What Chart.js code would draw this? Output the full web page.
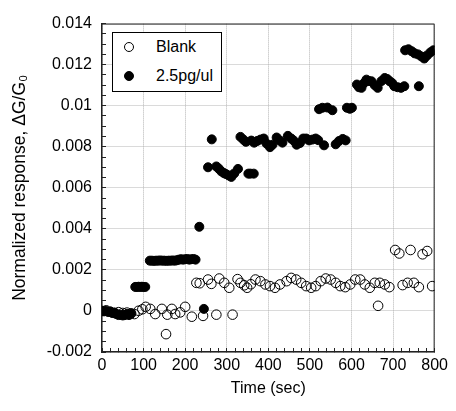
<!DOCTYPE html>
<html lang="en">
<head>
<meta charset="utf-8">
<title>Normalized response</title>
<script src="https://cdn.jsdelivr.net/npm/chart.js@4.4.1/dist/chart.umd.min.js"></script>
<style>
    html, body { margin: 0; padding: 0; background: #fff; }
    #area { position: relative; width: 456px; height: 411px; }
    #legenda {
        position: absolute;
        border: 1px solid #000;
        background: #fff;
        font: 16px 'Liberation Sans', Arial, sans-serif;
        color: #000;
        padding: 0 8px 0 0;
    }
    #legenda .item { display: flex; align-items: center; height: 29px; }
    #legenda .marca {
        box-sizing: border-box;
        width: 10px;
        height: 10px;
        border-radius: 50%;
        margin: 0 22px 0 11px;
    }
</style>
</head>
<body>
<div id="area">
    <canvas id="grafico" width="456" height="411"></canvas>
    <div id="legenda"></div>
</div>
<script>
// Blank
const tempoBranco = [
    0, 10, 20, 30, 40, 50, 60, 70, 78, 88, 97, 105, 116, 128, 144, 154, 157, 168, 176, 188,
    200, 216, 227, 235, 243, 255, 263, 275, 282, 294, 306, 314, 326, 333, 342, 349, 358, 369, 381, 393,
    404, 416, 428, 444, 455, 467, 479, 491, 503, 514, 526, 538, 550, 562, 573, 585, 597, 609, 621, 632,
    644, 656, 664, 668, 680, 691, 705, 715, 723, 735, 742, 750, 762, 771, 782, 794
];
const respostaBranco = [
    0.00000, 0.00003, -0.00004, -0.00010, -0.00006, -0.00010, -0.00008, -0.00012, -0.00015, 0.00001,
    0.00008, 0.00020, 0.00010, -0.00015, 0.00010, -0.00113, -0.00018, 0.00010, -0.00015, -0.00007,
    0.00020, -0.00028, 0.00137, 0.00135, -0.00024, 0.00153, 0.00132, -0.00018, 0.00158, 0.00137,
    0.00113, -0.00018, 0.00155, 0.00137, 0.00125, 0.00113, 0.00130, 0.00153, 0.00145, 0.00129,
    0.00121, 0.00113, 0.00129, 0.00145, 0.00161, 0.00153, 0.00137, 0.00121, 0.00113, 0.00121,
    0.00145, 0.00158, 0.00153, 0.00137, 0.00121, 0.00116, 0.00129, 0.00153, 0.00153, 0.00129,
    0.00113, 0.00137, 0.00025, 0.00137, 0.00129, 0.00116, 0.00297, 0.00280, 0.00126, 0.00137,
    0.00297, 0.00137, 0.00116, 0.00276, 0.00292, 0.00121
];

// 2.5pg/ul
const tempoAmostra = [
    0, 5, 10, 15, 20, 25, 30, 35, 40, 45, 50, 55, 60, 65, 70,
    80, 84, 88, 92, 96, 100, 104,
    115, 120, 125, 130, 135, 140, 145, 150, 155, 160, 165, 170, 175, 180, 185, 190, 195, 200, 205, 210, 215, 220, 225,
    234, 245, 255, 264, 275, 281, 287, 293, 298, 305, 311, 318, 327, 333, 340, 346, 352, 357, 359, 365, 366,
    373, 381, 389, 396, 404, 410, 420, 428, 434, 447, 455, 461, 468, 476, 484, 491, 498, 506, 514, 520,
    522, 530, 534, 542, 554, 562, 570, 579, 586, 589, 596, 601,
    613, 618, 624, 630, 636, 642, 648, 656, 663, 672, 680, 686, 692, 698, 703, 711, 719, 727,
    729, 737, 745, 752, 760, 762, 768, 775, 782, 790, 797
];
const respostaAmostra = [
    0.00000, -0.00002, 0.00000, -0.00005, -0.00003, -0.00010, -0.00008, -0.00015, -0.00020, -0.00018,
    -0.00022, -0.00020, -0.00015, -0.00020, -0.00012,
    0.00117, 0.00117, 0.00118, 0.00117, 0.00118, 0.00117, 0.00117,
    0.00245, 0.00245, 0.00244, 0.00245, 0.00245, 0.00246, 0.00245, 0.00245, 0.00244, 0.00245, 0.00245,
    0.00246, 0.00245, 0.00247, 0.00250, 0.00252, 0.00250, 0.00252, 0.00253, 0.00250, 0.00252, 0.00253, 0.00250,
    0.00410, 0.00010, 0.00700, 0.00836, 0.00704, 0.00693, 0.00680, 0.00672, 0.00667, 0.00660, 0.00653,
    0.00670, 0.00692, 0.00848, 0.00835, 0.00824, 0.00669, 0.00669, 0.00830, 0.00669, 0.00820,
    0.00828, 0.00835, 0.00840, 0.00815, 0.00798, 0.00810, 0.00845, 0.00830, 0.00820, 0.00853, 0.00840,
    0.00830, 0.00810, 0.00818, 0.00840, 0.00840, 0.00831, 0.00835, 0.00840, 0.00832,
    0.00983, 0.00990, 0.00807, 0.00991, 0.00978, 0.00812, 0.00828, 0.00838, 0.00831, 0.00990, 0.00985, 0.00990,
    0.01103, 0.01090, 0.01087, 0.01110, 0.01127, 0.01120, 0.01119, 0.01100, 0.01087, 0.01120, 0.01135,
    0.01130, 0.01119, 0.01110, 0.01095, 0.01090, 0.01087, 0.01095,
    0.01270, 0.01275, 0.01265, 0.01255, 0.01250, 0.01095, 0.01240, 0.01230, 0.01245, 0.01260, 0.01270
];

// marcas com rotulo (as demais ficam so como tracinho)
const marcasX = [0, 100, 200, 300, 400, 500, 600, 700, 800];
const marcasY = [-0.002, 0, 0.002, 0.004, 0.006, 0.008, 0.01, 0.012, 0.014];

const fonte = "'Liberation Sans', Arial, Helvetica, sans-serif";
Chart.defaults.font.family = fonte;
Chart.defaults.font.size = 16;
Chart.defaults.color = '#000';

function ehMarca(valor, marcas) {
    return marcas.some((m) => Math.abs(m - valor) < 1e-9);
}

function rotulo(valor, marcas) {
    if (!ehMarca(valor, marcas)) return '';
    return String(Number(valor.toFixed(3)));
}

function eixo(marcas, passo, min, max) {
    return {
        type: 'linear',
        min: min,
        max: max,
        border: { color: '#222', width: 1.5, dash: [1, 1] },
        grid: {
            drawTicks: true,
            tickLength: -4,
            tickColor: '#222',
            tickWidth: 1,
            lineWidth: 1,
            borderDash: [1, 1],
            color: (ctx) => (ctx.tick && ehMarca(ctx.tick.value, marcas)) ? '#b4b4b4' : 'rgba(0,0,0,0)'
        },
        ticks: {
            stepSize: passo,
            autoSkip: false,
            maxRotation: 0,
            color: '#000',
            callback: (valor) => rotulo(valor, marcas)
        }
    };
}

const eixoX = eixo(marcasX, 20, 0, 800);
eixoX.ticks.padding = 8;
eixoX.title = { display: true, text: 'Time (sec)', color: '#000', padding: { top: 0, bottom: 13 } };
eixoX.afterFit = (escala) => { escala.height = 59; };

const eixoY = eixo(marcasY, 0.0005, -0.002, 0.014);
eixoY.ticks.padding = 14;
eixoY.title = {
    display: true,
    text: 'Normalized response, \u0394G/G\u2080',
    color: '#000',
    font: { size: 17.5 },
    padding: { top: 10, bottom: 0 }
};
eixoY.afterFit = (escala) => { escala.width = 102; };

// contorno de cima e da direita da area do grafico
const moldura = {
    id: 'moldura',
    beforeDatasetsDraw(chart) {
        const { ctx, chartArea: { left, top, right, bottom } } = chart;
        ctx.save();
        ctx.strokeStyle = '#222';
        ctx.lineWidth = 1;
        ctx.beginPath();
        ctx.moveTo(left, top + 0.5);
        ctx.lineTo(right - 0.5, top + 0.5);
        ctx.lineTo(right - 0.5, bottom);
        ctx.stroke();
        ctx.restore();
    }
};

// legenda em html com caixa, dentro da area do grafico
const legendaHtml = {
    id: 'legendaHtml',
    afterUpdate(chart) {
        const caixa = document.getElementById('legenda');
        caixa.innerHTML = '';
        chart.data.datasets.forEach((ds) => {
            const linha = document.createElement('div');
            linha.className = 'item';
            const marca = document.createElement('span');
            marca.className = 'marca';
            marca.style.background = ds.backgroundColor;
            marca.style.border = `${ds.borderWidth}px solid ${ds.borderColor}`;
            const texto = document.createElement('span');
            texto.textContent = ds.label;
            linha.appendChild(marca);
            linha.appendChild(texto);
            caixa.appendChild(linha);
        });
        caixa.style.left = `${chart.chartArea.left + 10}px`;
        caixa.style.top = `${chart.chartArea.top + 8}px`;
    }
};

let data = {
    datasets: [
        {
            label: 'Blank',
            data: tempoBranco.map((t, i) => ({ x: t, y: respostaBranco[i] })),
            backgroundColor: 'rgba(0,0,0,0)',
            borderColor: '#000',
            borderWidth: 1,
            pointRadius: 4.8
        },
        {
            label: '2.5pg/ul',
            data: tempoAmostra.map((t, i) => ({ x: t, y: respostaAmostra[i] })),
            backgroundColor: '#000',
            borderColor: '#000',
            borderWidth: 1,
            pointRadius: 4.5
        }
    ]
};

let options = {
    responsive: false,
    animation: false,
    devicePixelRatio: 1,
    events: [],
    layout: { padding: { top: 18, right: 16, bottom: 0, left: 0 } },
    scales: { x: eixoX, y: eixoY },
    plugins: {
        legend: { display: false },
        tooltip: { enabled: false }
    }
};

new Chart(document.getElementById('grafico'), {
    type: 'scatter',
    data: data,
    options: options,
    plugins: [moldura, legendaHtml]
});
</script>
</body>
</html>
